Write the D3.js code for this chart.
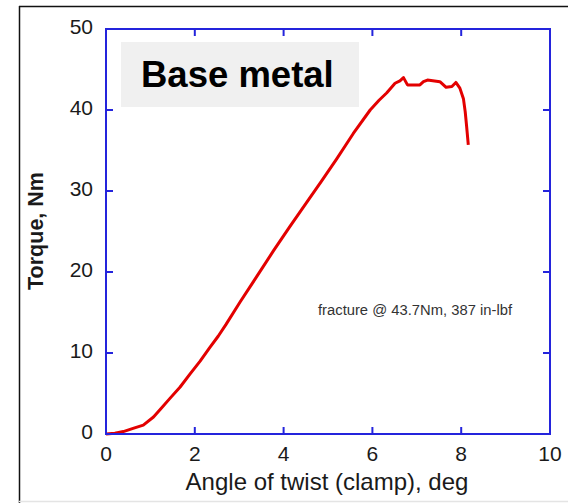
<!DOCTYPE html>
<html><head><meta charset="utf-8">
<script src="https://cdn.jsdelivr.net/npm/d3@7"></script>
<style>body{margin:0;background:#fff;} svg{display:block;font-family:"Liberation Sans",Arial,sans-serif;}</style>
</head><body>
<svg id="c" width="568" height="503"></svg>
<script>
const angle = [0,0.2,0.39,0.61,0.84,1.07,1.25,1.44,1.67,1.89,2.12,2.34,2.53,2.7,3.02,3.39,3.77,4.14,4.52,4.85,5.2,5.57,5.95,6.15,6.32,6.51,6.62,6.7,6.79,7.07,7.15,7.24,7.52,7.6,7.66,7.79,7.88,7.97,8.05,8.09,8.12,8.16];
const torque = [0,0.1,0.3,0.7,1.1,2.1,3.2,4.4,5.8,7.4,9.0,10.7,12.1,13.5,16.3,19.4,22.6,25.6,28.6,31.2,34.0,37.1,40.0,41.2,42.1,43.3,43.6,44.0,43.1,43.1,43.5,43.7,43.5,43.1,42.8,42.9,43.4,42.7,41.4,39.8,38.1,35.7];
const xTicks = [0,2,4,6,8,10];
const yTicks = [0,10,20,30,40,50];
const title = "Base metal";
const note = "fracture @ 43.7Nm, 387 in-lbf";
const xLabel = "Angle of twist (clamp), deg";
const yLabel = "Torque, Nm";

const svg = d3.select("#c");
const L=106, R=550, T=29, B=434;
const x = d3.scaleLinear().domain([0,10]).range([L,R]);
const y = d3.scaleLinear().domain([0,50]).range([B,T]);
const blue = "#2424dc";

// outer frame
svg.append("line").attr("x1",19.5).attr("x2",19.5).attr("y1",6).attr("y2",503).attr("stroke","#111").attr("stroke-width",1.5);
svg.append("line").attr("x1",19).attr("x2",568).attr("y1",6.5).attr("y2",6.5).attr("stroke","#111").attr("stroke-width",1.5);
svg.append("line").attr("x1",19).attr("x2",568).attr("y1",501.5).attr("y2",501.5).attr("stroke","#e4e4e4").attr("stroke-width",1.5);

// title box
svg.append("rect").attr("x",121).attr("y",42).attr("width",238).attr("height",65).attr("fill","#f0f0f0");
svg.append("text").attr("x",141).attr("y",87).attr("font-size",36.5).attr("font-weight","bold").attr("fill","#000").text(title);

// curve
const line = d3.line().x((d,i)=>x(angle[i])).y((d,i)=>y(torque[i]));
svg.append("path").attr("d",line(angle)).attr("fill","none").attr("stroke","#e30000").attr("stroke-width",3).attr("stroke-linejoin","round");

// frame + ticks
svg.append("rect").attr("x",L).attr("y",T).attr("width",R-L).attr("height",B-T).attr("fill","none").attr("stroke",blue).attr("stroke-width",2);
const tk = 7;
xTicks.slice(1,-1).forEach(v=>{
  svg.append("line").attr("x1",x(v)).attr("x2",x(v)).attr("y1",B).attr("y2",B-tk).attr("stroke",blue).attr("stroke-width",2);
  svg.append("line").attr("x1",x(v)).attr("x2",x(v)).attr("y1",T).attr("y2",T+tk).attr("stroke",blue).attr("stroke-width",2);
});
yTicks.slice(1,-1).forEach(v=>{
  svg.append("line").attr("x1",L).attr("x2",L+tk).attr("y1",y(v)).attr("y2",y(v)).attr("stroke",blue).attr("stroke-width",2);
  svg.append("line").attr("x1",R).attr("x2",R-tk).attr("y1",y(v)).attr("y2",y(v)).attr("stroke",blue).attr("stroke-width",2);
});

// tick labels
svg.append("g").selectAll("text").data(xTicks).join("text")
  .attr("x",d=>x(d)).attr("y",461).attr("text-anchor","middle").attr("font-size",21).attr("fill","#1a1a1a").text(d=>d);
svg.append("g").selectAll("text").data(yTicks).join("text")
  .attr("x",93).attr("y",d=>y(d)+5).attr("text-anchor","end").attr("font-size",21).attr("fill","#1a1a1a").text(d=>d);

// axis labels
svg.append("text").attr("x",327).attr("y",490).attr("text-anchor","middle").attr("font-size",24).attr("fill","#1a1a1a").text(xLabel);
svg.append("text").attr("transform","translate(43,231) rotate(-90)").attr("text-anchor","middle").attr("font-size",21.5).attr("font-weight","bold").attr("fill","#1a1a1a").text(yLabel);

// note
svg.append("text").attr("x",318).attr("y",315).attr("font-size",14).attr("fill","#333")
  .attr("textLength",194).attr("lengthAdjust","spacingAndGlyphs").text(note);
</script>
</body></html>
